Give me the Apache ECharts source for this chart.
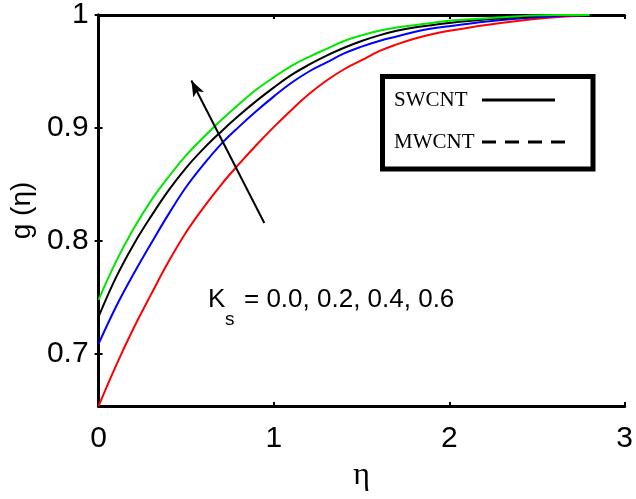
<!DOCTYPE html>
<html>
<head>
<meta charset="utf-8">
<script src="https://cdn.jsdelivr.net/npm/echarts@6/dist/echarts.min.js"></script>
<style>
  html, body { margin: 0; padding: 0; background: #fff; }
  #chart { width: 636px; height: 499px; }
</style>
</head>
<body>
<div id="chart"></div>
<script>
  var etaValues = [0, 0.1, 0.2, 0.3, 0.4, 0.5, 0.6, 0.7, 0.8, 0.9, 1.0, 1.1, 1.2, 1.3, 1.4,
                   1.5, 1.6, 1.7, 1.8, 1.9, 2.0, 2.2, 2.4, 2.6, 2.8];
  // g(eta) for Ks = 0.0, 0.2, 0.4, 0.6
  var gKs00 = [0.654, 0.690, 0.723, 0.753, 0.782, 0.808, 0.830, 0.850, 0.868, 0.885, 0.901, 0.916, 0.930,
               0.942, 0.952, 0.960, 0.968, 0.974, 0.979, 0.983, 0.986, 0.991, 0.995, 0.998, 1.0];
  var gKs02 = [0.709, 0.742, 0.771, 0.798, 0.824, 0.848, 0.868, 0.886, 0.901, 0.915, 0.928, 0.940, 0.950,
               0.958, 0.966, 0.972, 0.977, 0.981, 0.985, 0.988, 0.990, 0.994, 0.997, 0.999, 1.0];
  var gKs04 = [0.733, 0.768, 0.797, 0.822, 0.845, 0.865, 0.882, 0.897, 0.911, 0.924, 0.936, 0.947, 0.956,
               0.964, 0.971, 0.977, 0.982, 0.986, 0.989, 0.991, 0.993, 0.996, 0.998, 1.0, 1.0];
  var gKs06 = [0.748, 0.782, 0.811, 0.836, 0.857, 0.876, 0.892, 0.907, 0.921, 0.934, 0.945, 0.955, 0.963,
               0.970, 0.977, 0.982, 0.986, 0.989, 0.991, 0.993, 0.995, 0.997, 0.999, 1.0, 1.0];
  var yTicks = [0.7, 0.8, 0.9, 1];
  // arrow annotation (data coords), tail -> head
  var arrowFrom = [0.945, 0.816];
  var arrowTo = [0.529, 0.942];

  function pairs(ys) {
    return etaValues.map(function (x, i) { return [x, ys[i]]; });
  }

  var chart = echarts.init(document.getElementById('chart'));
  var sans = 'Liberation Sans, Arial, sans-serif';
  var serif = 'Liberation Serif, Times New Roman, serif';

  var curves = [
    { name: 'Ks = 0.0', data: gKs00, color: '#ff0000' },
    { name: 'Ks = 0.2', data: gKs02, color: '#0000ff' },
    { name: 'Ks = 0.4', data: gKs04, color: '#000000' },
    { name: 'Ks = 0.6', data: gKs06, color: '#00e600' }
  ];

  var series = curves.map(function (c) {
    return {
      name: c.name,
      type: 'line',
      data: pairs(c.data),
      smooth: 0.4,
      symbol: 'none',
      lineStyle: { color: c.color, width: 2 },
      silent: true
    };
  });

  // arrow
  series[2].markLine = {
    silent: true,
    symbol: ['none', 'arrow'],
    symbolSize: [9, 16],
    lineStyle: { color: '#000', width: 2, type: 'solid' },
    label: { show: false },
    data: [[{ coord: arrowFrom }, { coord: arrowTo }]]
  };

  var axisLine = { show: true, lineStyle: { color: '#000', width: 3 } };
  var tick = { show: true, inside: true, length: 4, lineStyle: { color: '#000', width: 2 } };

  chart.setOption({
    animation: false,
    backgroundColor: '#fff',
    grid: { left: 94, right: 9, top: 15, bottom: 93 },
    xAxis: [{
      type: 'value',
      min: 0, max: 3, interval: 1,
      name: 'η',
      nameLocation: 'middle',
      nameGap: 54,
      nameTextStyle: { fontFamily: serif, fontSize: 32, color: '#000' },
      axisLine: axisLine,
      axisTick: tick,
      axisLabel: { fontFamily: sans, fontSize: 30, color: '#000', margin: 18 },
      splitLine: { show: false }
    }, {
      type: 'value',
      position: 'top',
      min: 0, max: 3, interval: 1,
      axisLine: axisLine,
      axisTick: tick,
      axisLabel: { show: false },
      splitLine: { show: false }
    }],
    yAxis: [{
      type: 'value',
      min: 0.654, max: 1,
      name: 'g (η)',
      nameLocation: 'middle',
      nameGap: 60,
      nameTextStyle: { fontFamily: sans, fontSize: 28, color: '#000' },
      axisLine: axisLine,
      axisTick: Object.assign({ customValues: yTicks }, tick),
      axisLabel: { fontFamily: sans, fontSize: 30, color: '#000', margin: 10, customValues: yTicks, showMaxLabel: true },
      splitLine: { show: false }
    }, {
      type: 'value',
      position: 'right',
      min: 0.654, max: 1,
      axisLine: axisLine,
      axisTick: Object.assign({ customValues: yTicks }, tick),
      axisLabel: { show: false },
      splitLine: { show: false }
    }],
    graphic: [
      // Ks annotation
      { type: 'text', left: 208, top: 287, silent: true,
        style: { text: 'K', fontFamily: sans, fontSize: 26, fill: '#000' } },
      { type: 'text', left: 225, top: 310, silent: true,
        style: { text: 's', fontFamily: sans, fontSize: 19, fill: '#000' } },
      { type: 'text', left: 244, top: 287, silent: true,
        style: { text: '= 0.0, 0.2, 0.4, 0.6', fontFamily: sans, fontSize: 26, fill: '#000' } },
      // legend box
      { type: 'rect', silent: true, z: 10,
        shape: { x: 382.5, y: 76.5, width: 210.5, height: 92.5 },
        style: { fill: '#fff', stroke: '#000', lineWidth: 5 } },
      { type: 'text', x: 394, y: 100, silent: true, z: 11,
        style: { text: 'SWCNT', fontFamily: serif, fontSize: 21, fill: '#000', verticalAlign: 'middle' } },
      { type: 'line', silent: true, z: 11,
        shape: { x1: 482, y1: 100, x2: 555, y2: 100 },
        style: { stroke: '#000', lineWidth: 3 } },
      { type: 'text', x: 394, y: 142, silent: true, z: 11,
        style: { text: 'MWCNT', fontFamily: serif, fontSize: 21, fill: '#000', verticalAlign: 'middle' } },
      { type: 'line', silent: true, z: 11,
        shape: { x1: 482, y1: 142, x2: 571, y2: 142 },
        style: { stroke: '#000', lineWidth: 3, lineDash: [14, 9] } }
    ],
    series: series
  });
</script>
</body>
</html>
